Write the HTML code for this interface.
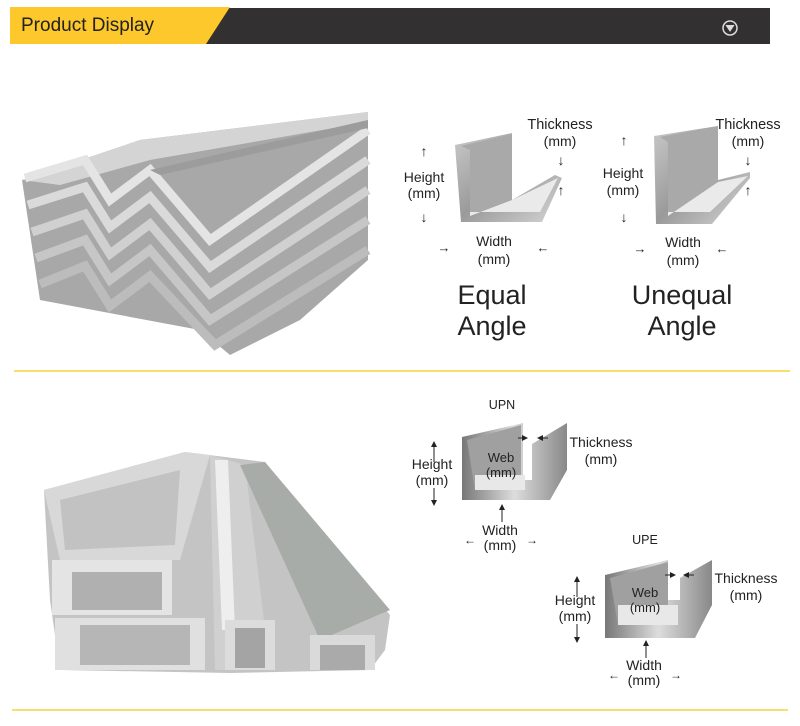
<!DOCTYPE html>
<html><head><meta charset="utf-8"><style>
body{margin:0;background:#fff;width:800px;height:726px;overflow:hidden;font-family:"Liberation Sans",sans-serif}
svg{display:block}
text{font-family:"Liberation Sans",sans-serif;fill:#222}
</style></head><body>
<svg width="800" height="726" viewBox="0 0 800 726">
<defs>
<linearGradient id="g1" x1="0" y1="0" x2="1" y2="1"><stop offset="0" stop-color="#c9c9c9"/><stop offset="0.5" stop-color="#9a9a9a"/><stop offset="1" stop-color="#d6d6d6"/></linearGradient>
<linearGradient id="g2" x1="0" y1="0" x2="1" y2="0"><stop offset="0" stop-color="#777"/><stop offset="0.5" stop-color="#ddd"/><stop offset="1" stop-color="#888"/></linearGradient>
<marker id="ar" markerWidth="6" markerHeight="6" refX="5" refY="3" orient="auto"><path d="M0,0 L6,3 L0,6 Z" fill="#222"/></marker>
</defs>
<!-- header -->
<rect x="205" y="8" width="565" height="36" fill="#333031"/>
<polygon points="10,7 230,7 206,44 10,44" fill="#fcc82b"/>
<text x="21" y="31" font-size="19" style="font-family:'Liberation Sans Narrow','Liberation Sans',sans-serif" fill="#2a2a2a">Product  Display</text>
<circle cx="730" cy="28" r="7" fill="none" stroke="#ddd" stroke-width="1.5"/>
<path d="M726,25 L730,31 L734,25" fill="#ddd" stroke="#ddd"/>
<!-- separators -->
<rect x="14" y="370" width="776" height="2" fill="#f8de6a"/>
<rect x="12" y="709" width="776" height="2" fill="#f8de6a"/>

<!-- angle photo -->
<g>
<polygon points="368,112 368,260 300,320 230,355 200,330 40,300 22,180 140,140" fill="#a8a8a8"/>
<polygon points="22,180 140,140 368,112 368,122 150,160 60,185" fill="#d4d4d4"/>
<g fill="none" stroke-linejoin="miter">
<path d="M25,178 L85,160 L110,200 L150,170 L210,240 L368,130" stroke="#e4e4e4" stroke-width="9"/>
<path d="M28,205 L85,187 L110,227 L150,197 L210,267 L368,160" stroke="#dadada" stroke-width="9"/>
<path d="M32,232 L85,214 L110,254 L150,224 L210,294 L368,190" stroke="#d0d0d0" stroke-width="9"/>
<path d="M36,258 L85,240 L110,280 L150,250 L210,320 L368,220" stroke="#c6c6c6" stroke-width="9"/>
<path d="M40,284 L85,266 L110,306 L150,276 L215,345 L368,250" stroke="#bcbcbc" stroke-width="9"/>
</g>
<polygon points="150,170 368,120 368,128 160,175" fill="#9c9c9c"/>
</g>

<!-- Equal angle -->
<polygon points="455,145 512,133 512,200 555,175 562,178 542,222 461,222" fill="url(#g1)"/>
<polygon points="461,146 512,134 512,200 470,216 470,150" fill="#a9a9a9"/>
<polygon points="470,216 512,200 558,178 540,212 470,212" fill="#eaeaea"/>
<text x="424" y="182" font-size="14" text-anchor="middle">Height</text>
<text x="424" y="198" font-size="14" text-anchor="middle">(mm)</text>
<text x="424" y="156" font-size="14" text-anchor="middle">↑</text>
<text x="424" y="222" font-size="14" text-anchor="middle">↓</text>
<text x="560" y="129" font-size="14.5" text-anchor="middle">Thickness</text>
<text x="560" y="146" font-size="14" text-anchor="middle">(mm)</text>
<text x="561" y="165" font-size="14" text-anchor="middle">↓</text>
<text x="561" y="195" font-size="14" text-anchor="middle">↑</text>
<text x="494" y="246" font-size="14" text-anchor="middle">Width</text>
<text x="494" y="264" font-size="14" text-anchor="middle">(mm)</text>
<text x="444" y="252" font-size="13" text-anchor="middle">→</text>
<text x="543" y="252" font-size="13" text-anchor="middle">←</text>
<text x="492" y="304" font-size="27" text-anchor="middle">Equal</text>
<text x="492" y="335" font-size="27" text-anchor="middle">Angle</text>

<!-- Unequal angle -->
<polygon points="654,136 718,126 718,180 750,172 750,178 712,224 656,224" fill="url(#g1)"/>
<polygon points="660,137 718,126 718,182 668,216 668,142" fill="#a9a9a9"/>
<polygon points="668,216 718,182 748,176 710,212 668,212" fill="#eaeaea"/>
<text x="623" y="178" font-size="14" text-anchor="middle">Height</text>
<text x="623" y="195" font-size="14" text-anchor="middle">(mm)</text>
<text x="624" y="145" font-size="14" text-anchor="middle">↑</text>
<text x="624" y="222" font-size="14" text-anchor="middle">↓</text>
<text x="748" y="129" font-size="14.5" text-anchor="middle">Thickness</text>
<text x="748" y="146" font-size="14" text-anchor="middle">(mm)</text>
<text x="748" y="165" font-size="14" text-anchor="middle">↓</text>
<text x="748" y="195" font-size="14" text-anchor="middle">↑</text>
<text x="683" y="247" font-size="14" text-anchor="middle">Width</text>
<text x="683" y="265" font-size="14" text-anchor="middle">(mm)</text>
<text x="640" y="253" font-size="13" text-anchor="middle">→</text>
<text x="722" y="253" font-size="13" text-anchor="middle">←</text>
<text x="682" y="304" font-size="27" text-anchor="middle">Unequal</text>
<text x="682" y="335" font-size="27" text-anchor="middle">Angle</text>

<!-- channel photo -->
<g>
<polygon points="44,490 185,452 265,462 390,615 385,650 370,670 230,673 60,670 50,600" fill="#c4c4c4"/>
<polygon points="44,490 185,452 210,455 180,560 60,560" fill="#d8d8d8"/>
<polygon points="60,500 180,470 175,545 65,550" fill="#c2c2c2"/>
<rect x="52" y="560" width="120" height="55" fill="#e4e4e4"/>
<rect x="72" y="572" width="90" height="38" fill="#b0b0b0"/>
<rect x="55" y="618" width="150" height="52" fill="#e0e0e0"/>
<rect x="80" y="625" width="110" height="40" fill="#b6b6b6"/>
<polygon points="210,455 245,465 270,670 215,670" fill="#d0d0d0"/>
<polygon points="240,465 265,462 390,610 320,640" fill="#a8aca8"/>
<polygon points="215,460 228,460 235,630 222,630" fill="#eee"/>
<rect x="225" y="620" width="50" height="50" fill="#dcdcdc"/>
<rect x="235" y="628" width="30" height="40" fill="#a4a4a4"/>
<rect x="310" y="635" width="65" height="35" fill="#dadada"/>
<rect x="320" y="645" width="45" height="25" fill="#aaa"/>
</g>

<!-- UPN -->
<text x="502" y="409" font-size="12.5" text-anchor="middle">UPN</text>
<polygon points="462,437 523,423 523,480 532,480 532,444 567,423 567,470 550,500 462,500" fill="url(#g2)"/>
<polygon points="467,440 521,425 521,490 475,490" fill="#a0a0a0"/>
<rect x="475" y="475" width="50" height="15" fill="#e8e8e8"/>
<text x="432" y="469" font-size="14" text-anchor="middle">Height</text>
<text x="432" y="485" font-size="14" text-anchor="middle">(mm)</text>
<line x1="434" y1="462" x2="434" y2="442" stroke="#222" marker-end="url(#ar)"/>
<line x1="434" y1="488" x2="434" y2="505" stroke="#222" marker-end="url(#ar)"/>
<text x="501" y="462" font-size="13" text-anchor="middle">Web</text>
<text x="501" y="477" font-size="13" text-anchor="middle">(mm)</text>
<text x="601" y="447" font-size="14" text-anchor="middle">Thickness</text>
<text x="601" y="464" font-size="14" text-anchor="middle">(mm)</text>
<line x1="518" y1="438" x2="527" y2="438" stroke="#222" marker-end="url(#ar)"/>
<line x1="548" y1="438" x2="538" y2="438" stroke="#222" marker-end="url(#ar)"/>
<line x1="502" y1="522" x2="502" y2="505" stroke="#222" marker-end="url(#ar)"/>
<text x="500" y="535" font-size="14" text-anchor="middle">Width</text>
<text x="500" y="550" font-size="14" text-anchor="middle">(mm)</text>
<text x="470" y="544" font-size="12" text-anchor="middle">←</text>
<text x="532" y="544" font-size="12" text-anchor="middle">→</text>

<!-- UPE -->
<text x="645" y="544" font-size="12.5" text-anchor="middle">UPE</text>
<polygon points="605,575 668,560 668,600 680,600 680,578 712,560 712,605 695,638 605,638" fill="url(#g2)"/>
<polygon points="610,578 668,562 668,625 618,625" fill="#a0a0a0"/>
<rect x="618" y="605" width="60" height="20" fill="#e8e8e8"/>
<text x="575" y="605" font-size="14" text-anchor="middle">Height</text>
<text x="575" y="621" font-size="14" text-anchor="middle">(mm)</text>
<line x1="577" y1="597" x2="577" y2="577" stroke="#222" marker-end="url(#ar)"/>
<line x1="577" y1="624" x2="577" y2="642" stroke="#222" marker-end="url(#ar)"/>
<text x="645" y="597" font-size="13" text-anchor="middle">Web</text>
<text x="645" y="612" font-size="13" text-anchor="middle">(mm)</text>
<text x="746" y="583" font-size="14" text-anchor="middle">Thickness</text>
<text x="746" y="600" font-size="14" text-anchor="middle">(mm)</text>
<line x1="665" y1="575" x2="675" y2="575" stroke="#222" marker-end="url(#ar)"/>
<line x1="694" y1="575" x2="684" y2="575" stroke="#222" marker-end="url(#ar)"/>
<line x1="646" y1="658" x2="646" y2="641" stroke="#222" marker-end="url(#ar)"/>
<text x="644" y="670" font-size="14" text-anchor="middle">Width</text>
<text x="644" y="685" font-size="14" text-anchor="middle">(mm)</text>
<text x="614" y="679" font-size="12" text-anchor="middle">←</text>
<text x="676" y="679" font-size="12" text-anchor="middle">→</text>
</svg>
</body></html>
